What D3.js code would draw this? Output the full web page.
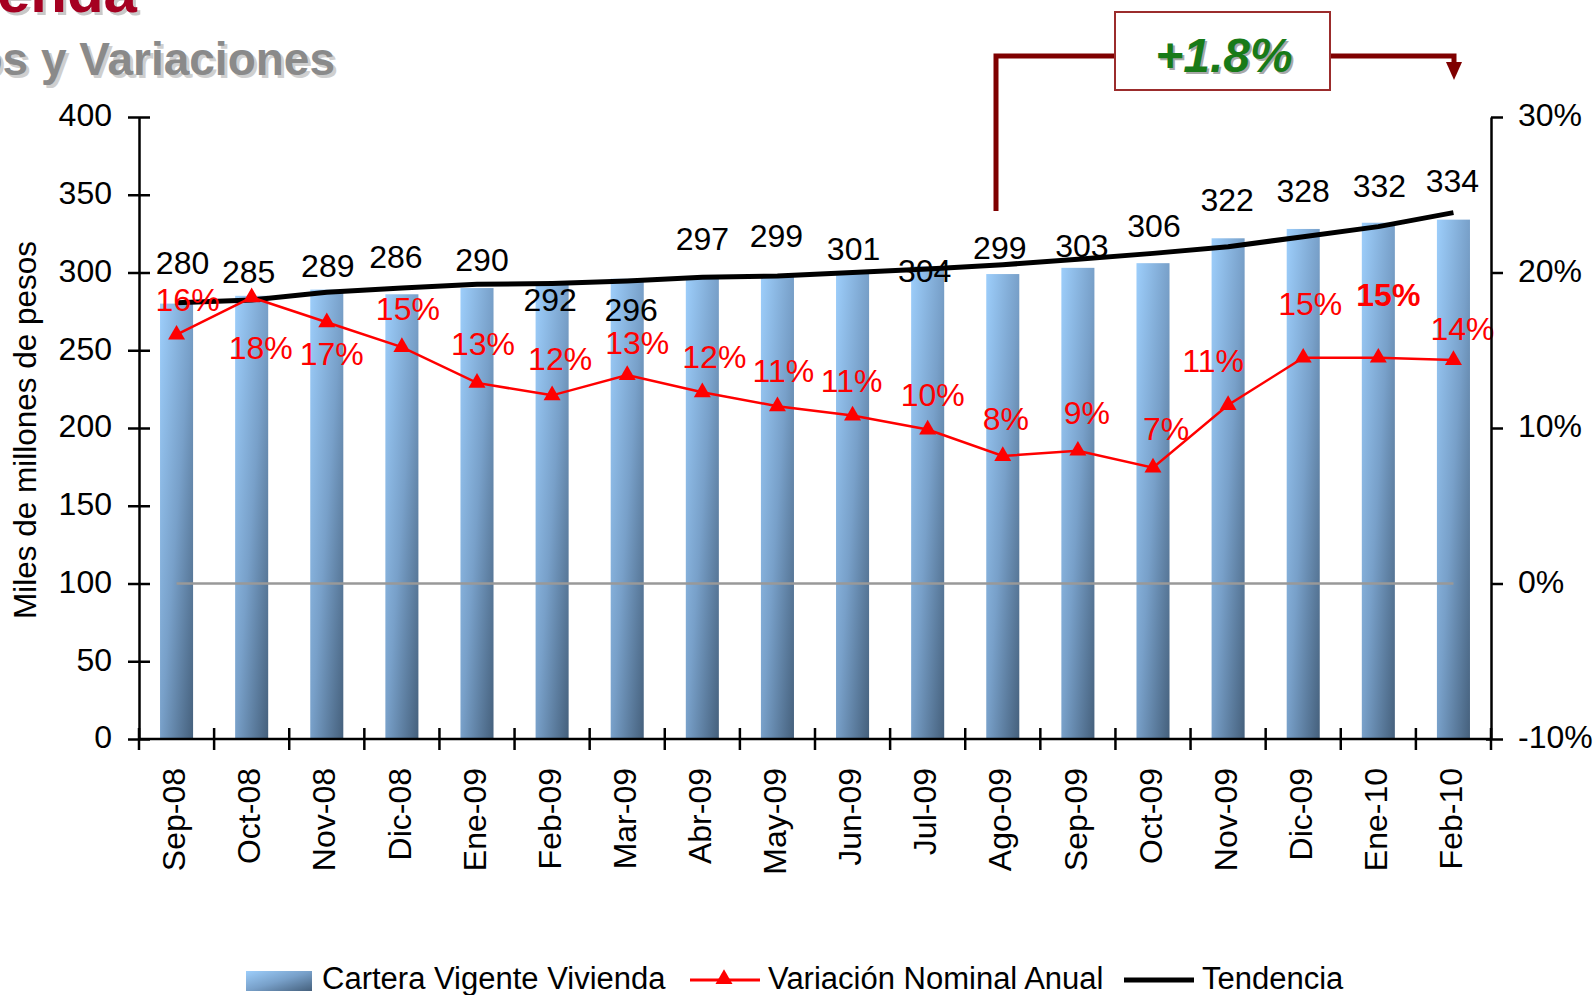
<!DOCTYPE html>
<html>
<head>
<meta charset="utf-8">
<script src="https://cdn.jsdelivr.net/npm/d3@7"></script>
<style>
  body { margin: 0; background: #fff; }
  text { font-family: "Liberation Sans", Arial, sans-serif; }
</style>
</head>
<body>
<script>
// Datos
const categories = ['Sep-08', 'Oct-08', 'Nov-08', 'Dic-08', 'Ene-09', 'Feb-09', 'Mar-09', 'Abr-09', 'May-09',
  'Jun-09', 'Jul-09', 'Ago-09', 'Sep-09', 'Oct-09', 'Nov-09', 'Dic-09', 'Ene-10', 'Feb-10'];
const cartera = [280, 285, 289, 286, 290, 292, 296, 297, 299, 301, 304, 299, 303, 306, 322, 328, 332, 334];
const variacion = [0.160, 0.184, 0.168, 0.152, 0.129, 0.121, 0.134, 0.123, 0.114, 0.108, 0.099, 0.082, 0.0854,
  0.0745, 0.1148, 0.1452, 0.1452, 0.1437];
const tendencia = [280.6, 282.3, 287.3, 290.0, 292.4, 293.0, 294.5, 296.9, 297.7, 300.0, 302.2, 305.0, 308.5,
  312.3, 316.6, 323.0, 329.5, 338.5];
const leftTicks = [0, 50, 100, 150, 200, 250, 300, 350, 400];
const rightTicks = [-0.1, 0, 0.1, 0.2, 0.3];
const legendNames = ['Cartera Vigente Vivienda', 'Variación Nominal Anual', 'Tendencia'];
const variacionTotal = '+1.8%';

const W = 1594, H = 995;
const plot = { left: 139, right: 1491, top: 117, bottom: 739 };
const fontSize = 32;
const pct = d => d3.format('.0%')(d).replace('\u2212', '-');

const svg = d3.select('body').append('svg').attr('width', W).attr('height', H);

// Degradado de las barras
const defs = svg.append('defs');
const grad = defs.append('linearGradient').attr('id', 'barGrad')
  .attr('x1', 0).attr('y1', 0).attr('x2', 1).attr('y2', 1);
grad.append('stop').attr('offset', 0).attr('stop-color', '#9DCEFB');
grad.append('stop').attr('offset', 0.5).attr('stop-color', '#78A0C9');
grad.append('stop').attr('offset', 1).attr('stop-color', '#45607C');

// Escalas
const x = d3.scaleBand().domain(categories).range([plot.left, plot.right])
  .paddingInner(0.56).paddingOuter(0.28);
const yL = d3.scaleLinear().domain([0, 400]).range([plot.bottom, plot.top]);
const yR = d3.scaleLinear().domain([-0.1, 0.3]).range([plot.bottom, plot.top]);
const cx = c => x(c) + x.bandwidth() / 2;

// Títulos (recortados como en la diapositiva)
const title = (txt, xx, yy, size, fill, shadow, off) => {
  svg.append('text').attr('x', xx + off).attr('y', yy + off).attr('text-anchor', 'end')
    .attr('font-size', size).attr('font-weight', 'bold').attr('fill', shadow).text(txt);
  svg.append('text').attr('x', xx).attr('y', yy).attr('text-anchor', 'end')
    .attr('font-size', size).attr('font-weight', 'bold').attr('fill', fill).text(txt);
};
title('Cartera de Vivienda', 137, 12, 60, '#A50021', '#C8C8C8', 3);
title('Saldos y Variaciones', 335, 75, 46, '#8A8A8A', '#CFCFCF', 3);

// Barras
svg.append('g').selectAll('rect').data(categories).join('rect')
  .attr('x', d => x(d))
  .attr('y', (d, i) => yL(cartera[i]))
  .attr('width', x.bandwidth())
  .attr('height', (d, i) => yL(0) - yL(cartera[i]))
  .attr('fill', 'url(#barGrad)');

// Línea de 0%
svg.append('line')
  .attr('x1', cx(categories[0])).attr('x2', cx(categories[categories.length - 1]))
  .attr('y1', yR(0)).attr('y2', yR(0))
  .attr('stroke', '#999').attr('stroke-width', 2.5);

// Tendencia
svg.append('path')
  .datum(tendencia)
  .attr('fill', 'none').attr('stroke', '#000').attr('stroke-width', 5).attr('stroke-linejoin', 'round')
  .attr('d', d3.line().x((d, i) => cx(categories[i])).y(d => yL(d)));

// Variación nominal anual
svg.append('path')
  .datum(variacion)
  .attr('fill', 'none').attr('stroke', '#FF0000').attr('stroke-width', 2.5)
  .attr('d', d3.line().x((d, i) => cx(categories[i])).y(d => yR(d)));
const tri = d3.symbol(d3.symbolTriangle, 125);
svg.append('g').selectAll('path').data(variacion).join('path')
  .attr('transform', (d, i) => `translate(${cx(categories[i])},${yR(d)})`)
  .attr('d', tri).attr('fill', '#FF0000');

// Etiquetas de valores (ajustes manuales como en el original)
const barLabelNudge = [[6, -30], [-3, -13], [1, -13], [-6, -26], [5, -17], [-2, 26], [4, 42], [0, -27], [-1, -27],
  [1, -11], [-3, 16], [-3, -15], [4, -11], [1, -26], [-1, -27], [0, -27], [1, -26], [-1, -28]];
const varLabelNudge = [[11, -24], [9, 62], [5, 43], [6, -27], [6, -28], [8, -25], [10, -21], [12, -24], [6, -24],
  [-1, -24], [5, -24], [3, -26], [9, -27], [13, -28], [-15, -33], [7, -43], [10, -52], [9, -20]];
const boldVar = new Set(['Ene-10']);

svg.append('g').selectAll('text').data(cartera).join('text')
  .attr('x', (d, i) => cx(categories[i]) + barLabelNudge[i][0])
  .attr('y', (d, i) => yL(d) + barLabelNudge[i][1])
  .attr('text-anchor', 'middle').attr('font-size', fontSize).attr('fill', '#000')
  .text(d => d3.format('d')(d));

svg.append('g').selectAll('text').data(variacion).join('text')
  .attr('x', (d, i) => cx(categories[i]) + varLabelNudge[i][0])
  .attr('y', (d, i) => yR(d) + varLabelNudge[i][1])
  .attr('text-anchor', 'middle').attr('font-size', fontSize).attr('fill', '#FF0000')
  .attr('font-weight', (d, i) => boldVar.has(categories[i]) ? 'bold' : 'normal')
  .text(d => pct(d));

// Ejes
const styleAxis = g => {
  g.attr('font-size', fontSize).attr('font-family', '"Liberation Sans", Arial, sans-serif');
  g.select('.domain').attr('stroke-width', 2.5);
  g.selectAll('.tick line').attr('stroke-width', 2.5);
  g.selectAll('.tick text').attr('fill', '#000');
};

const axL = svg.append('g').attr('transform', `translate(${plot.left},0)`)
  .call(d3.axisLeft(yL).tickValues(leftTicks).tickSize(11).tickSizeOuter(0).tickPadding(16))
  .call(styleAxis);
axL.selectAll('.tick line').attr('x1', 11);
axL.selectAll('.tick text').attr('dy', '0.28em');

const axR = svg.append('g').attr('transform', `translate(${plot.right},0)`)
  .call(d3.axisRight(yR).tickValues(rightTicks).tickSize(12).tickSizeOuter(0).tickPadding(15)
    .tickFormat(pct))
  .call(styleAxis);
axR.selectAll('.tick text').attr('dy', '0.28em');
axR.select('.tick line').attr('x1', -5);

const axB = svg.append('g').attr('transform', `translate(0,${plot.bottom})`)
  .call(d3.axisBottom(x).tickSize(0).tickSizeOuter(0))
  .call(styleAxis);
axB.select('.domain').remove();
axB.selectAll('.tick text')
  .attr('transform', 'rotate(-90)')
  .attr('text-anchor', 'end')
  .attr('x', -29).attr('y', 0).attr('dy', '0.27em');
svg.append('line').attr('x1', plot.left).attr('x2', plot.right)
  .attr('y1', plot.bottom).attr('y2', plot.bottom).attr('stroke', '#000').attr('stroke-width', 2.5);
const bounds = categories.map(c => x(c) - x.step() * x.paddingInner() / 2).concat([plot.right]);
svg.append('g').selectAll('line').data(bounds).join('line')
  .attr('x1', d => d).attr('x2', d => d)
  .attr('y1', plot.bottom - 11).attr('y2', plot.bottom + 11)
  .attr('stroke', '#000').attr('stroke-width', 2.5);

// Título del eje Y
svg.append('text')
  .attr('transform', `translate(25,${(plot.top + plot.bottom) / 2 + 2}) rotate(-90)`)
  .attr('text-anchor', 'middle').attr('dy', '0.35em')
  .attr('font-size', 31.5).attr('fill', '#000')
  .text('Miles de millones de pesos');

// Anotación de variación
const dark = '#7F0000';
const ann = svg.append('g');
ann.append('path')
  .attr('d', `M996,211 V56 H1115 M1330,56 H1454 V64`)
  .attr('fill', 'none').attr('stroke', dark).attr('stroke-width', 5);
ann.append('path').attr('d', 'M1446,62 L1462,62 L1454,80 Z').attr('fill', dark);
ann.append('rect').attr('x', 1115).attr('y', 12).attr('width', 215).attr('height', 78)
  .attr('fill', '#fff').attr('stroke', '#9B2C2C').attr('stroke-width', 2);
ann.append('text').attr('x', 1226).attr('y', 74).attr('text-anchor', 'middle')
  .attr('font-size', 48).attr('font-weight', 'bold').attr('font-style', 'italic')
  .attr('fill', '#A8A8A8').text(variacionTotal);
ann.append('text').attr('x', 1224).attr('y', 72).attr('text-anchor', 'middle')
  .attr('font-size', 48).attr('font-weight', 'bold').attr('font-style', 'italic')
  .attr('fill', '#187A18').text(variacionTotal);

// Leyenda
const leg = svg.append('g');
leg.append('rect').attr('x', 246).attr('y', 971).attr('width', 66).attr('height', 20).attr('fill', 'url(#barGrad)');
leg.append('text').attr('x', 322).attr('y', 989).attr('font-size', 31).text(legendNames[0]);
leg.append('line').attr('x1', 690).attr('x2', 760).attr('y1', 980).attr('y2', 980)
  .attr('stroke', '#FF0000').attr('stroke-width', 3);
leg.append('path').attr('transform', 'translate(724,979)').attr('d', tri).attr('fill', '#FF0000');
leg.append('text').attr('x', 768).attr('y', 989).attr('font-size', 31).text(legendNames[1]);
leg.append('line').attr('x1', 1124).attr('x2', 1194).attr('y1', 980).attr('y2', 980)
  .attr('stroke', '#000').attr('stroke-width', 5);
leg.append('text').attr('x', 1202).attr('y', 989).attr('font-size', 31).text(legendNames[2]);
</script>
</body>
</html>
